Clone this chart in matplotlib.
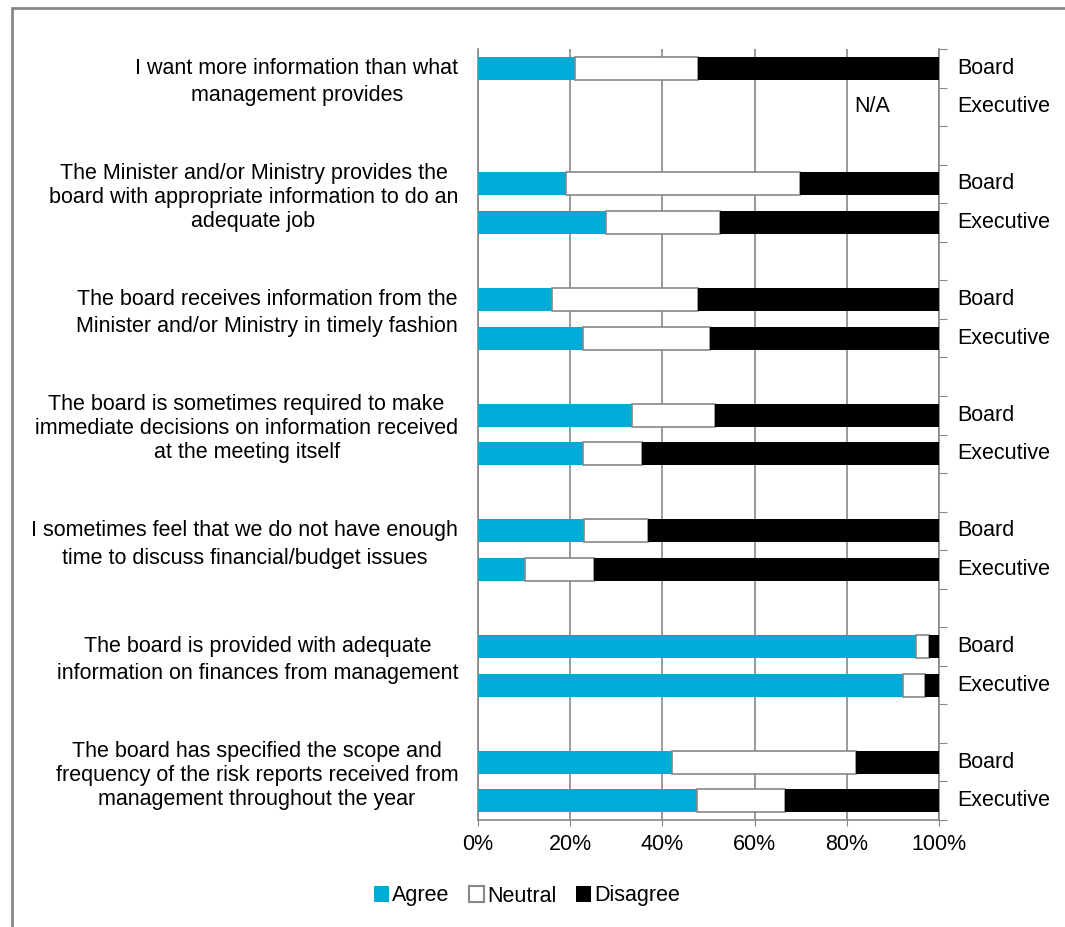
import numpy as np
from matplotlib import pyplot as plt
from matplotlib.patches import Rectangle

plt.rcParams['font.family'] = ['Liberation Sans', 'DejaVu Sans']

questions = [
    "I want more information than what\nmanagement provides",
    "The Minister and/or Ministry provides the\nboard with appropriate information to do an\nadequate job",
    "The board receives information from the\nMinister and/or Ministry in timely fashion",
    "The board is sometimes required to make\nimmediate decisions on information received\nat the meeting itself",
    "I sometimes feel that we do not have enough\ntime to discuss financial/budget issues",
    "The board is provided with adequate\ninformation on finances from management",
    "The board has specified the scope and\nfrequency of the risk reports received from\nmanagement throughout the year",
]
groups = ["Board", "Executive"]

# percent agree / neutral (Board, Executive per question); NaN = N/A
agree_board = [21.0, 19.1, 16.0, 33.4, 23.0, 95.1, 42.1]
neutral_board = [26.8, 50.8, 31.8, 18.0, 13.9, 2.8, 39.8]
agree_exec = [np.nan, 27.8, 22.8, 22.8, 10.1, 92.1, 47.6]
neutral_exec = [np.nan, 24.6, 27.6, 12.7, 15.0, 4.9, 19.0]

blue = '#00acd7'
grid = '#878787'
fs = 15.5


def main():
    fig = plt.figure(figsize=(10.65, 9.27), dpi=100)
    ax = fig.add_axes([478 / 1065, 1 - 820 / 927, 461 / 1065, 771 / 927])

    for i in range(len(questions)):
        for j, (ag, ne) in enumerate([(agree_board[i], neutral_board[i]),
                                      (agree_exec[i], neutral_exec[i])]):
            y = 3 * i + j
            ax.text(1.04, y, groups[j], ha='left', va='center', fontsize=fs)
            if np.isnan(ag):
                ax.text(0.855, y, "N/A", ha='center', va='center', fontsize=fs)
                continue
            a = ag / 100
            n = ne / 100
            d = 1 - a - n
            ax.barh(y, a, height=0.6, color=blue, edgecolor='none', zorder=3)
            ax.barh(y, n, left=a, height=0.6, color='white',
                    edgecolor=grid, linewidth=1.2, zorder=3)
            ax.barh(y, d, left=a + n, height=0.6, color='black',
                    edgecolor='none', zorder=3)
        nlines = questions[i].count("\n") + 1
        ls = 1.4 if nlines == 2 else 1.17
        ax.text(-0.043, 3 * i + 0.35, questions[i], ha='right', va='center',
                multialignment='center', fontsize=fs, linespacing=ls)

    ax.set_xlim(0, 1)
    ax.set_ylim(19.5, -0.5)
    ax.set_xticks(np.arange(0, 1.01, 0.2))
    ax.set_xticklabels([f"{int(round(v * 100))}%" for v in np.arange(0, 1.01, 0.2)],
                       fontsize=fs)
    ax.tick_params(axis='x', length=4, color=grid, pad=6)
    ax.xaxis.grid(True, color=grid, linewidth=1.2, zorder=0)
    ax.set_axisbelow(True)

    ax.yaxis.tick_right()
    ax.set_yticks(np.arange(-0.5, 20, 1))
    ax.set_yticklabels([])
    ax.tick_params(axis='y', length=6, color=grid, direction='out')

    for s in ['left', 'right', 'bottom']:
        ax.spines[s].set_color(grid)
        ax.spines[s].set_linewidth(1.2)
    ax.spines['top'].set_visible(False)

    handles = [Rectangle((0, 0), 1, 1, facecolor=blue, edgecolor='none'),
               Rectangle((0, 0), 1, 1, facecolor='white', edgecolor=grid, linewidth=1.5),
               Rectangle((0, 0), 1, 1, facecolor='black', edgecolor='none')]
    fig.legend(handles, ["Agree", "Neutral", "Disagree"], loc='center',
               bbox_to_anchor=(0.495, 1 - 896 / 927), ncol=3, frameon=False,
               fontsize=fs, handlelength=0.7, handleheight=0.7,
               handletextpad=0.15, columnspacing=0.9)

    # outer chart frame (only left and top edges visible)
    fig.patches.append(Rectangle((12 / 1065, -0.05), 1.1, 1.05 - 8 / 927,
                                 transform=fig.transFigure, fill=False,
                                 edgecolor=grid, linewidth=2))

    fig.savefig("out.png", dpi=100)


if __name__ == "__main__":
    main()
